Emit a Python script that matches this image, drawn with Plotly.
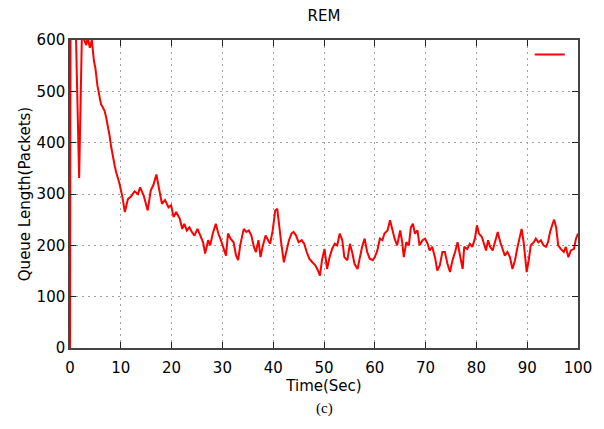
import plotly.graph_objects as go

# Queue length of the REM router over time (packets)
time_s = [
    0, 0.1, 1.1, 1.8, 2.4, 2.8, 3.2, 3.5, 3.9, 4.3, 4.7, 5.0, 5.4, 5.8, 6.1, 6.5, 6.8, 7.1, 7.4, 7.8,
    8.1, 8.4, 8.8, 9.1, 9.7, 10.3, 10.8, 11.4, 12.0, 12.7, 13.4, 13.8,
    14.5, 15.3, 15.9, 16.4, 17.0, 17.4, 18.1, 18.7, 19.4, 19.9, 20.4, 20.9, 21.6, 22.1, 22.5, 23.0,
    23.5, 24.0, 24.5, 25.1, 25.6, 26.2, 26.6, 27.2, 27.6, 28.1, 28.7, 29.2, 29.7, 30.2, 30.7,
    31.1, 31.6, 32.2, 32.7, 33.1, 33.5, 34.2, 34.7, 35.2, 35.7, 36.2, 36.6, 37.1, 37.5, 37.9, 38.5,
    39.0, 39.4, 39.9, 40.4, 40.8, 41.1, 41.6, 42.1, 42.5, 43.1, 43.6, 44.0, 44.5, 45.0, 45.6, 46.1,
    46.6, 47.1, 47.7,
    48.3, 48.8, 49.2, 49.6, 50.1, 50.6, 51.1, 51.6, 52.1, 52.6, 53.1, 53.6, 54.0, 54.6, 55.1, 55.6,
    56.0, 56.6, 57.1, 57.5, 58.0, 58.5, 59.0, 59.6, 60.0, 60.5, 61.0, 61.5, 61.9, 62.5, 63.0, 63.4,
    63.9, 64.4,
    65.0, 65.4, 65.7, 66.2, 66.7, 67.1, 67.5, 67.9, 68.4, 68.8, 69.4, 69.9, 70.4, 70.8, 71.3, 71.9,
    72.3, 72.8, 73.3, 73.8, 74.3, 74.8, 75.3, 75.8, 76.3, 76.7, 77.3, 77.6, 78.2, 78.7, 79.2, 79.7,
    80.1, 80.5, 81.1,
    81.4, 81.9, 82.3, 82.7, 83.2, 83.6, 84.2, 84.7, 85.1, 85.6, 86.1, 86.6, 87.1, 87.6, 88.1, 88.6,
    88.9, 89.3, 89.6, 89.9, 90.3, 90.7, 91.3, 91.7, 92.2, 92.7, 93.2, 93.7, 94.1, 94.5, 95.0, 95.3,
    95.7, 96.1, 96.6, 97.2, 97.6, 98.1, 98.6, 99.2, 99.6, 100.0,
]
queue_pkts = [
    0, 640, 640, 331, 640, 600, 590, 605, 585, 600, 560, 545, 511, 485, 475, 468, 462, 450, 436, 413,
    392, 374, 355, 342, 322, 295, 265, 290, 295, 305, 300, 313,
    297, 268, 307, 317, 338, 317, 281, 288, 274, 278, 255, 265, 252, 232, 242, 229,
    235, 226, 219, 232, 219, 206, 184, 210, 200, 223, 242, 223, 210, 197, 180,
    223, 213, 206, 180, 171, 200, 232, 226, 229, 219, 197, 187, 210, 177, 197, 219,
    210, 203, 229, 268, 271, 242, 203, 167, 187, 210, 223, 226, 219, 206, 210, 203,
    187, 174, 167,
    161, 151, 141, 171, 193, 154, 177, 193, 203, 200, 223, 210, 177, 171, 203, 184,
    164, 154, 180, 197, 213, 187, 174, 171, 177, 190, 213, 210, 223, 229, 249, 232,
    213, 200,
    229, 206, 177, 206, 200, 235, 242, 223, 229, 200, 210, 213, 203, 190, 197, 174,
    151, 161, 187, 187, 164, 148, 171, 187, 206, 184, 154, 197, 193, 203, 197, 213,
    239, 223, 216,
    206, 190, 210, 197, 190, 206, 226, 206, 193, 180, 187, 177, 154, 171, 197, 219,
    232, 206, 171, 148, 171, 200, 206, 213, 206, 210, 200, 197, 206, 226, 242, 250,
    235, 200, 193, 187, 197, 177, 190, 193, 213, 223,
]

x_ticks = [0, 10, 20, 30, 40, 50, 60, 70, 80, 90, 100]
y_ticks = [0, 100, 200, 300, 400, 500, 600]

FONT = "DejaVu Sans"

fig = go.Figure()
fig.add_trace(go.Scatter(
    x=time_s, y=queue_pkts, mode="lines", name=" ",
    line=dict(color="#ff0000", width=2),
    showlegend=True,
))

axis_common = dict(
    showgrid=True, gridcolor="#a0a0a0", griddash="2px,4px", gridwidth=1,
    showline=True, linecolor="#444444", linewidth=1.5, mirror="ticks",
    ticks="inside", ticklen=6, tickcolor="#222222", tickwidth=1,
    zeroline=False,
    tickfont=dict(family=FONT, size=15, color="#000000"),
)

fig.update_xaxes(
    range=[0, 100], tickvals=x_ticks, ticklabelstandoff=5,
    title=dict(text="Time(Sec)", font=dict(family=FONT, size=15, color="#000000"), standoff=1),
    **axis_common,
)
fig.update_yaxes(
    range=[0, 600], tickvals=y_ticks,
    title=dict(text="Queue Length(Packets)", font=dict(family=FONT, size=15, color="#000000"), standoff=2),
    **axis_common,
)

fig.update_layout(
    width=604, height=429,
    margin=dict(l=70, r=26, t=40, b=81),
    paper_bgcolor="white", plot_bgcolor="white",
    title=dict(text="REM", x=(70 + 254) / 604, xanchor="center", y=1 - 16 / 429, yanchor="middle",
               font=dict(family=FONT, size=15, color="#000000")),
    legend=dict(x=0.905, y=1.0, xanchor="left", yanchor="top", bgcolor="rgba(0,0,0,0)",
                font=dict(family=FONT, size=12), itemwidth=30),
    annotations=[dict(text="(c)", xref="paper", yref="paper", x=0.5, y=-0.195, yanchor="middle",
                      showarrow=False, font=dict(family="Liberation Serif", size=15, color="#000000"))],
)

fig.write_html("out.html")
